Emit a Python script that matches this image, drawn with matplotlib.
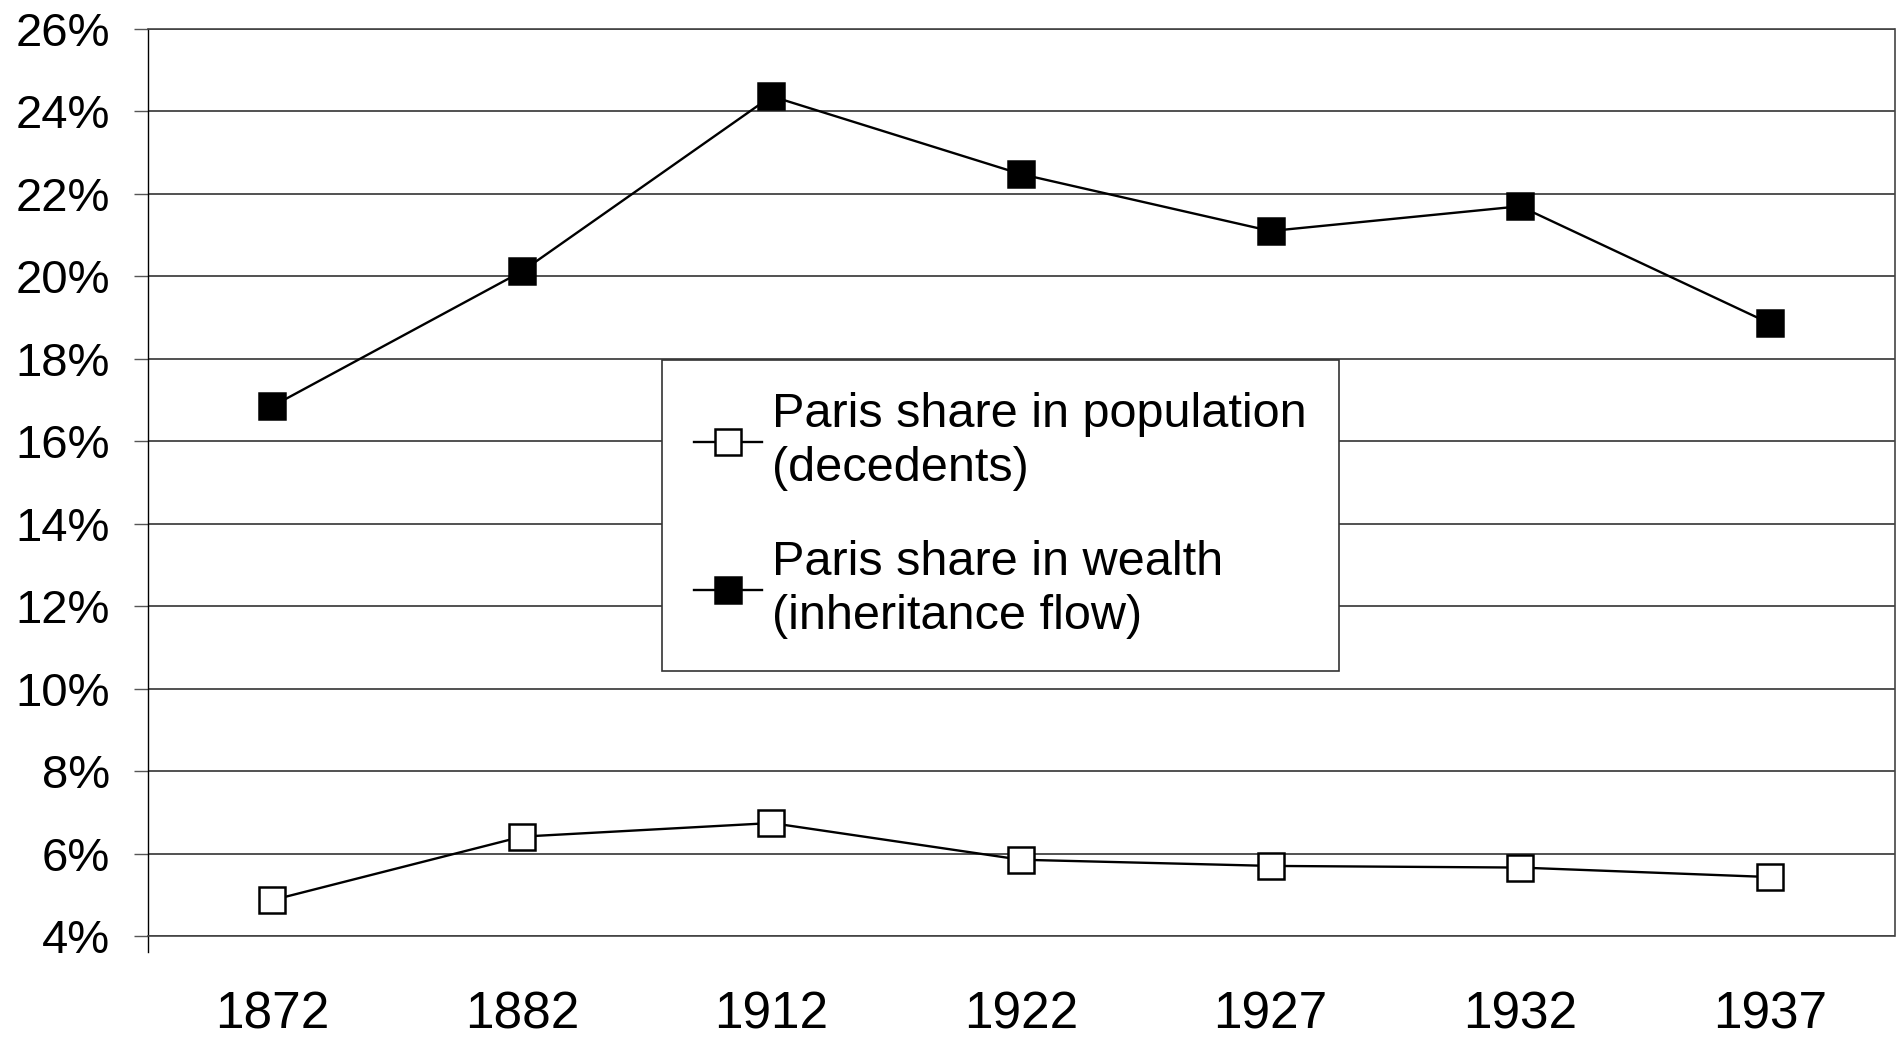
import matplotlib.pyplot as plt
import numpy as np

years = ['1872', '1882', '1912', '1922', '1927', '1932', '1937']
population = [4.87, 6.41, 6.74, 5.85, 5.70, 5.66, 5.43]
wealth = [16.85, 20.12, 24.37, 22.48, 21.10, 21.70, 18.86]
yticks = [4, 6, 8, 10, 12, 14, 16, 18, 20, 22, 24, 26]

labelPop = 'Paris share in population\n(decedents)'
labelWealth = 'Paris share in wealth\n(inheritance flow)'

plt.rcParams['font.family'] = ['Liberation Sans', 'DejaVu Sans']

fig = plt.figure(figsize=(18.96, 10.38), dpi=100)
ax = fig.add_axes([147.5 / 1896, 1 - 936 / 1038, (1894.5 - 147.5) / 1896, (936 - 29) / 1038])

x = np.arange(len(years))
ax.plot(x, population, color='black', lw=1.7, marker='s', markersize=19,
        markerfacecolor='white', markeredgecolor='black', markeredgewidth=1.8,
        label=labelPop, zorder=3)
ax.plot(x, wealth, color='black', lw=1.7, marker='s', markersize=19,
        markerfacecolor='black', markeredgecolor='black', markeredgewidth=1.8,
        label=labelWealth, zorder=3)

ax.set_xlim(-0.5, len(years) - 0.5)
ax.set_ylim(4, 26)
ax.set_xticks(x)
ax.set_xticklabels(years)
ax.set_yticks(yticks)
ax.set_yticklabels(['%d%%' % v for v in yticks])
ax.tick_params(axis='y', length=10, width=1, color='#555555', pad=17, labelsize=34)
ax.tick_params(axis='x', length=0, pad=39, labelsize=37)

ax.yaxis.grid(True, color='#222222', lw=1.1)
ax.set_axisbelow(True)

for side in ['top', 'right', 'bottom']:
    ax.spines[side].set_color('#444444')
    ax.spines[side].set_linewidth(1.2)
ax.spines['left'].set_color('black')
ax.spines['left'].set_linewidth(1.0)
ax.spines['left'].set_bounds(3.6, 26)

leg = ax.legend(loc='upper left', bbox_to_anchor=((662 - 147.5) / 1747, (936 - 360) / 907),
                borderaxespad=0, fontsize=35, frameon=True, fancybox=False,
                edgecolor='#333333', framealpha=1, handlelength=1.4,
                handletextpad=0.22, labelspacing=1.0, borderpad=0.65, numpoints=1)
leg.get_frame().set_linewidth(1.2)
for t in leg.get_texts():
    t.set_linespacing(1.27)
for h in leg.legend_handles:
    h.set_markersize(19)

fig.savefig('out.png', dpi=100)
